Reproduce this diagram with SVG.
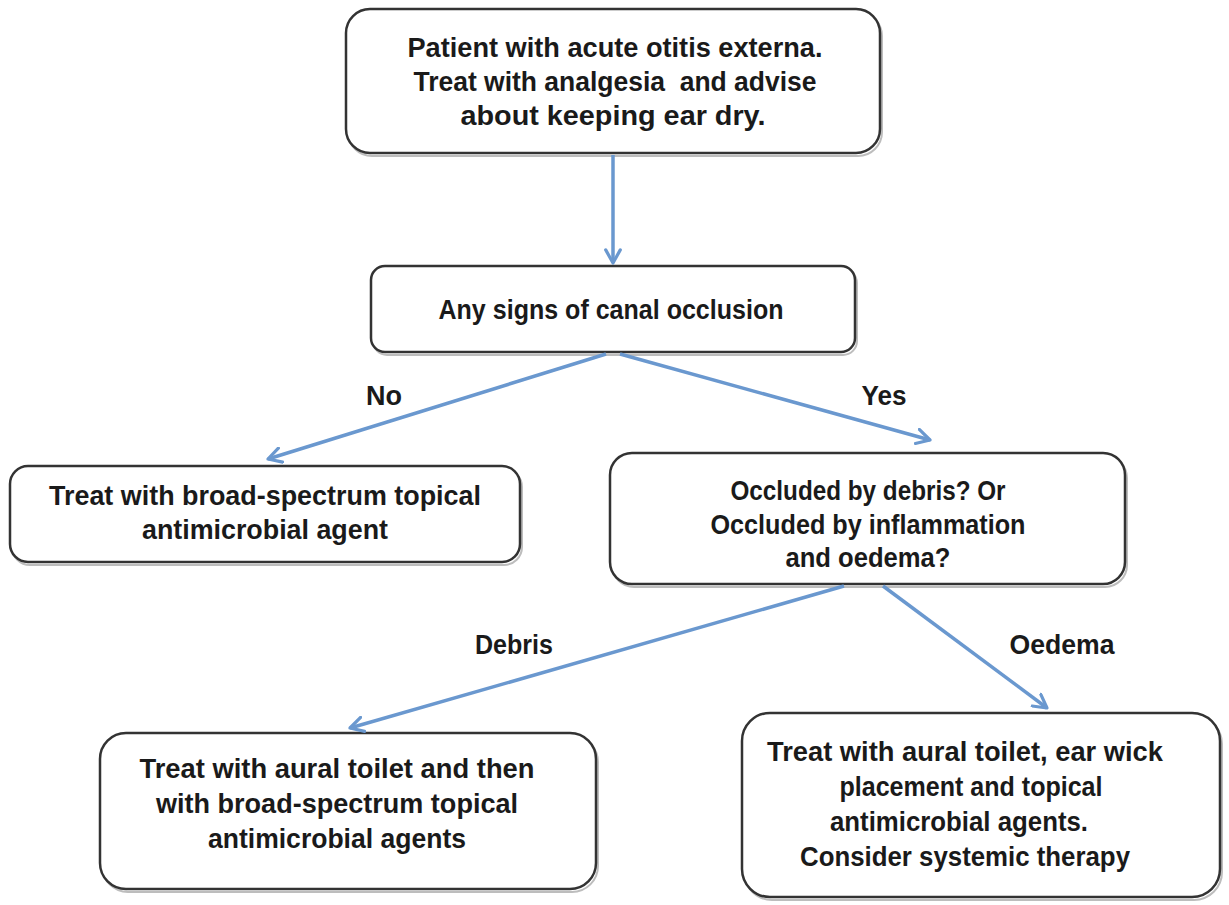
<svg xmlns="http://www.w3.org/2000/svg" width="1229" height="905" viewBox="0 0 1229 905">
  <style>
    .box { fill: #ffffff; stroke: #333333; stroke-width: 2.5; }
    .sh { fill: none; stroke: #bdbdbd; stroke-width: 2; }
    .t { font-family: "Liberation Sans", Arial, sans-serif; font-weight: bold; font-size: 27px; fill: #1a1a1a; text-anchor: middle; white-space: pre; }
    .conn { stroke: #6a98cf; stroke-width: 3.5; fill: none; marker-end: url(#arrow); }
  </style>
  <defs>
    <marker id="arrow" viewBox="0 0 12 12" refX="10" refY="6" markerWidth="5" markerHeight="5" orient="auto" markerUnits="strokeWidth">
      <path d="M1,1 L10,6 L1,11" fill="none" stroke="#6a98cf" stroke-width="2.2" stroke-linecap="round" stroke-linejoin="round"/>
    </marker>
  </defs>
  <rect width="1229" height="905" fill="#ffffff"/>

  <g id="n1">
    <rect class="sh" x="348" y="12" width="534" height="144" rx="24"/>
    <rect class="box" x="346" y="9" width="534" height="144" rx="24"/>
    <text class="t" x="615" y="57" textLength="415" lengthAdjust="spacingAndGlyphs">Patient with acute otitis externa.</text>
    <text class="t" x="615" y="91" textLength="403" lengthAdjust="spacingAndGlyphs" xml:space="preserve">Treat with analgesia  and advise</text>
    <text class="t" x="613" y="125" textLength="305" lengthAdjust="spacingAndGlyphs">about keeping ear dry.</text>
  </g>

  <g id="n2">
    <rect class="sh" x="373" y="269" width="484" height="86" rx="14"/>
    <rect class="box" x="371" y="266" width="484" height="86" rx="14"/>
    <text class="t" x="611" y="319" textLength="345" lengthAdjust="spacingAndGlyphs">Any signs of canal occlusion</text>
  </g>

  <g id="n3">
    <rect class="sh" x="12" y="469" width="510" height="96" rx="18"/>
    <rect class="box" x="10" y="466" width="510" height="96" rx="18"/>
    <text class="t" x="265" y="505" textLength="432" lengthAdjust="spacingAndGlyphs">Treat with broad-spectrum topical</text>
    <text class="t" x="265" y="539" textLength="246" lengthAdjust="spacingAndGlyphs">antimicrobial agent</text>
  </g>

  <g id="n4">
    <rect class="sh" x="612" y="456" width="515" height="131" rx="22"/>
    <rect class="box" x="610" y="453" width="515" height="131" rx="22"/>
    <text class="t" x="868" y="500" textLength="275" lengthAdjust="spacingAndGlyphs">Occluded by debris? Or</text>
    <text class="t" x="868" y="534" textLength="315" lengthAdjust="spacingAndGlyphs">Occluded by inflammation</text>
    <text class="t" x="868" y="567" textLength="165" lengthAdjust="spacingAndGlyphs">and oedema?</text>
  </g>

  <g id="n5">
    <rect class="sh" x="102" y="736" width="496" height="156" rx="26"/>
    <rect class="box" x="100" y="733" width="496" height="156" rx="26"/>
    <text class="t" x="337" y="778" textLength="395" lengthAdjust="spacingAndGlyphs">Treat with aural toilet and then</text>
    <text class="t" x="337" y="813" textLength="362" lengthAdjust="spacingAndGlyphs">with broad-spectrum topical</text>
    <text class="t" x="337" y="848" textLength="258" lengthAdjust="spacingAndGlyphs">antimicrobial agents</text>
  </g>

  <g id="n6">
    <rect class="sh" x="744" y="716" width="478" height="184" rx="28"/>
    <rect class="box" x="742" y="713" width="478" height="184" rx="28"/>
    <text class="t" x="965" y="761" textLength="396" lengthAdjust="spacingAndGlyphs">Treat with aural toilet, ear wick</text>
    <text class="t" x="971" y="796" textLength="263" lengthAdjust="spacingAndGlyphs">placement and topical</text>
    <text class="t" x="959" y="831" textLength="258" lengthAdjust="spacingAndGlyphs">antimicrobial agents.</text>
    <text class="t" x="965" y="866" textLength="330" lengthAdjust="spacingAndGlyphs">Consider systemic therapy</text>
  </g>

  <g id="connectors">
    <line class="conn" x1="613" y1="155" x2="613" y2="263"/>
    <line class="conn" x1="606" y1="354" x2="268" y2="459"/>
    <line class="conn" x1="620" y1="354" x2="930" y2="440"/>
    <line class="conn" x1="844" y1="586" x2="350" y2="728"/>
    <line class="conn" x1="883" y1="586" x2="1047" y2="708"/>
  </g>

  <g id="labels">
    <text class="t" x="384" y="405" textLength="36" lengthAdjust="spacingAndGlyphs">No</text>
    <text class="t" x="884" y="405" textLength="45" lengthAdjust="spacingAndGlyphs">Yes</text>
    <text class="t" x="514" y="654" textLength="78" lengthAdjust="spacingAndGlyphs">Debris</text>
    <text class="t" x="1062" y="654" textLength="105" lengthAdjust="spacingAndGlyphs">Oedema</text>
  </g>
</svg>
